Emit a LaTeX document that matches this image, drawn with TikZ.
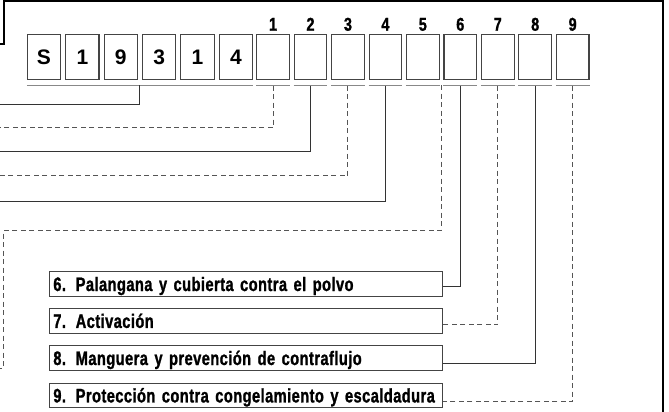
\documentclass[tikz,border=0pt]{standalone}
\usepackage{fontspec}
\setmainfont{Liberation Sans}
\newfontfamily\condfont[FakeStretch=0.75,LetterSpace=2.3,FakeBold=1.2]{Liberation Sans Bold}
\newfontfamily\numfont[FakeStretch=0.78,FakeBold=1.2]{Liberation Sans Bold}
\newfontfamily\boxfont{Liberation Sans Bold}
\definecolor{boxc}{HTML}{444444}
\definecolor{ulc}{HTML}{888888}
\definecolor{linec}{HTML}{333333}
\definecolor{dashc}{HTML}{555555}
\tikzset{
 digitbox/.style={draw=boxc, line width=1.1pt, minimum width=33.3pt, minimum height=44.6pt, inner sep=0pt, font=\boxfont\fontsize{21}{21}\selectfont},
 emptybox/.style={digitbox, minimum width=32.7pt},
 numlabel/.style={font=\numfont\fontsize{18.5}{18.5}\selectfont, anchor=base, inner sep=0pt},
 ulline/.style={draw=ulc, line width=1.5pt},
 solidconn/.style={draw=linec, line width=1pt},
 dashconn/.style={draw=dashc, line width=1pt, dash pattern=on 5pt off 3.5pt},
 labelbox/.style={draw=boxc, line width=1.1pt, anchor=west, text width=385.7pt, minimum height=24.5pt, text height=14pt, text depth=0pt, inner ysep=5pt, inner xsep=3.5pt, align=left, font=\condfont\fontsize{19.5}{19.5}\selectfont},
 frameline/.style={draw=black, line width=1.2pt},
}
\begin{document}
\begin{tikzpicture}[x=1pt,y=-1pt]
\useasboundingbox (0,0) rectangle (669,412);
% frame
\draw[frameline] (0,44) -- (4,44) -- (4,1) -- (663,1) -- (663,412);
% code boxes
\node[digitbox] (d1) at (43.95,57) {S};
\node[digitbox] (d2) at (82.35,57) {1};
\node[digitbox] (d3) at (120.75,57) {9};
\node[digitbox] (d4) at (159.15,57) {3};
\node[digitbox] (d5) at (197.55,57) {1};
\node[digitbox] (d6) at (235.95,57) {4};
% empty boxes and numbers
\foreach \j/\x in {1/273.05,2/310.5,3/347.95,4/385.4,5/422.85,6/460.3,7/497.75,8/535.2,9/572.65}{
  \node[emptybox] (e\j) at (\x,57) {};
  \node[numlabel] (n\j) at (\x,30.7) {\j};
  \draw[ulline] ([yshift=-5.7pt]e\j.south west) -- ([yshift=-5.7pt]e\j.south east);
  \coordinate (u\j) at ([yshift=-5.7pt]e\j.south);
}
\draw[ulline] ([yshift=-5.7pt]d1.south west) -- ([yshift=-5.7pt]d6.south east);
\coordinate (gu) at (139.5,85);
\coordinate (u5r) at (441,85);
% left ends
\coordinate (L0) at (0,104);
\coordinate (L1) at (0,127.7);
\coordinate (L2) at (0,151);
\coordinate (L3) at (0,175.7);
\coordinate (L4) at (0,201);
\coordinate (c5) at (3,230.7);
\coordinate (L5) at (0,368.3);
% label boxes
\node[labelbox] (lab6) at (49.3,284) {6. Palangana y cubierta contra el polvo};
\node[labelbox] (lab7) at (49.3,320.9) {7. Activación};
\node[labelbox] (lab8) at (49.3,358) {8. Manguera y prevención de contraflujo};
\node[labelbox] (lab9) at (49.3,395.4) {9. Protección contra congelamiento y escaldadura};
% connectors
\draw[solidconn] (gu) |- (L0);
\draw[dashconn] (u1) |- (L1);
\draw[solidconn] (u2) |- (L2);
\draw[dashconn] (u3) |- (L3);
\draw[solidconn] (u4) |- (L4);
\draw[dashconn] (u5r) |- (c5) |- (L5);
\draw[solidconn] (u6) |- ([yshift=-2.7pt]lab6.east);
\draw[dashconn] (u7) |- ([yshift=-4pt]lab7.east);
\draw[solidconn] (u8) |- ([yshift=-5.3pt]lab8.east);
\draw[dashconn] (u9) |- ([yshift=-6.3pt]lab9.east);
\end{tikzpicture}
\end{document}
